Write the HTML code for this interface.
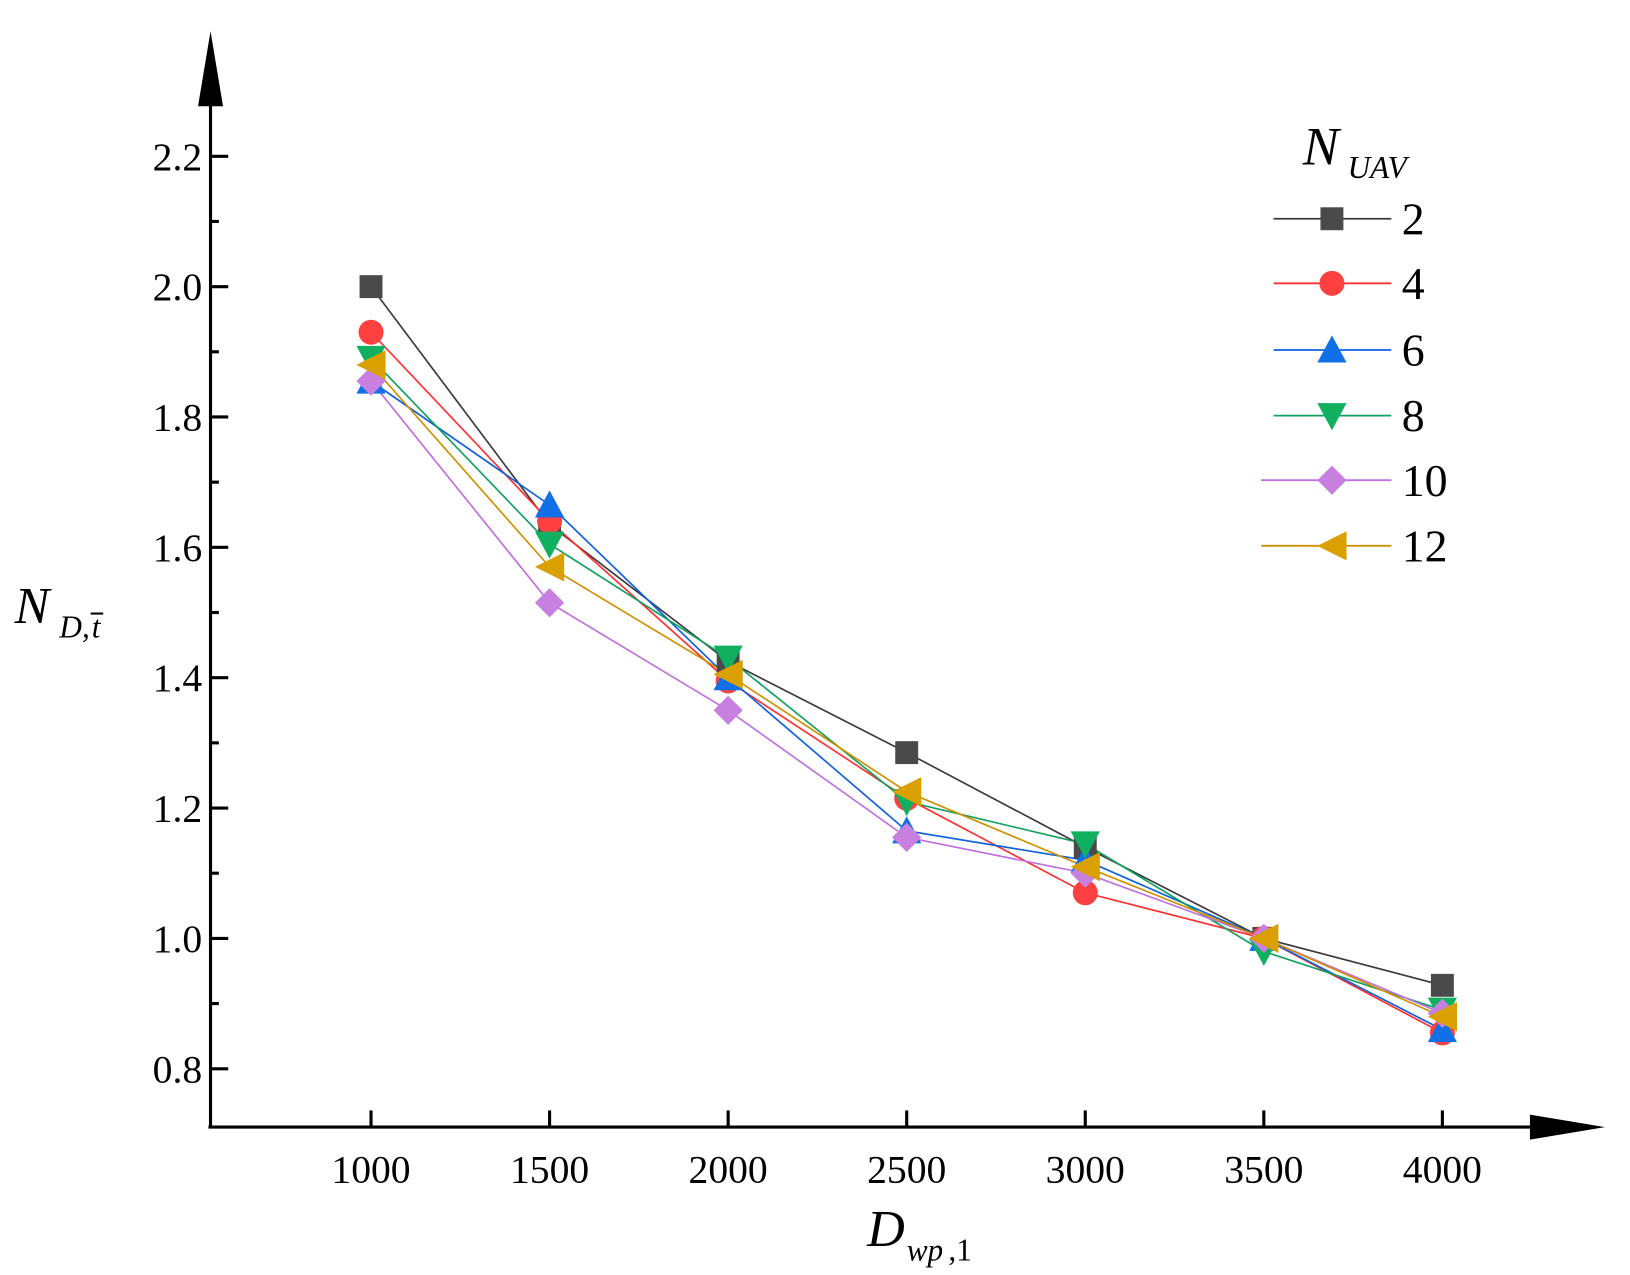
<!DOCTYPE html>
<html><head><meta charset="utf-8"><style>
html,body{margin:0;padding:0;background:#fff;}
svg{display:block;}
text{font-family:"Liberation Serif",serif;fill:#000;}
</style></head><body>
<svg id="s" width="1630" height="1275" viewBox="0 0 1564 1224" preserveAspectRatio="none" xmlns="http://www.w3.org/2000/svg">
<line x1="202" y1="1082" x2="202" y2="80" stroke="#000" stroke-width="3"/>
<polygon points="202,30 190,102 214,102" fill="#000"/>
<line x1="200" y1="1082" x2="1490" y2="1082" stroke="#000" stroke-width="3"/>
<polygon points="1540,1082 1468,1070 1468,1094" fill="#000"/>
<g id="g"></g>
<text x="14" y="598" font-size="50" font-style="italic">N</text>
<text x="57" y="612" font-size="30" font-style="italic">D,</text>
<text x="88" y="612" font-size="30" font-style="italic">t</text>
<line x1="87" y1="589" x2="99" y2="589" stroke="#000" stroke-width="2"/>
<text x="832" y="1196" font-size="50" font-style="italic">D</text>
<text x="870" y="1210" font-size="30" font-style="italic">wp</text><text x="910" y="1210" font-size="30">,1</text>
<text x="1250" y="158" font-size="52" font-style="italic">N</text>
<text x="1293" y="171" font-size="30" font-style="italic">UAV</text>
</svg>
<script>
var g=document.getElementById('g'),ns='http://www.w3.org/2000/svg';
function el(t,a){var e=document.createElementNS(ns,t);for(var k in a)e.setAttribute(k,a[k]);g.appendChild(e);return e;}
function X(i){return 356+i*171.33;}
function Y(v){return 1026-(v-0.8)*625.7;}
for(var k=1;k<=15;k++){var v=0.7+k*0.1;if(v>2.31)break;var y=Y(v);var maj=Math.round(v*10)%2==0;
el('line',{x1:202,x2:maj?219:210,y1:y,y2:y,stroke:'#000','stroke-width':3});
if(maj){var t=el('text',{x:194,y:y+13,'font-size':38,'text-anchor':'end'});t.textContent=v.toFixed(1);}}
for(var i=0;i<7;i++){el('line',{x1:X(i),x2:X(i),y1:1082,y2:1066,stroke:'#000','stroke-width':3});
var t=el('text',{x:X(i),y:1135,'font-size':38,'text-anchor':'middle'});t.textContent=1000+500*i;}
var S=[
['2','#3a3a3a','#4a4a4a','sq',[2.0,1.635,1.425,1.285,1.14,1.0,0.928]],
['4','#ff3030','#ff4040','ci',[1.93,1.64,1.395,1.215,1.07,1.0,0.855]],
['6','#1060e0','#1070e8','up',[1.855,1.665,1.40,1.165,1.12,1.0,0.86]],
['8','#10a060','#10b060','dn',[1.89,1.605,1.43,1.21,1.145,0.98,0.89]],
['10','#c070e0','#c880e0','di',[1.855,1.515,1.35,1.155,1.10,1.0,0.885]],
['12','#d09000','#daa000','le',[1.88,1.57,1.405,1.225,1.11,1.0,0.88]]];
function mk(t,x,y,c){var r=12;
if(t=='sq')el('rect',{x:x-r+1,y:y-r+1,width:2*r-2,height:2*r-2,fill:c});
else if(t=='ci')el('circle',{cx:x,cy:y,r:r,fill:c});
else if(t=='up')el('polygon',{points:[x,y-r-2,x-r-2,y+r,x+r+2,y+r].join(' '),fill:c});
else if(t=='dn')el('polygon',{points:[x,y+r+2,x-r-2,y-r,x+r+2,y-r].join(' '),fill:c});
else if(t=='di')el('polygon',{points:[x,y-r-2,x+r+2,y,x,y+r+2,x-r-2,y].join(' '),fill:c});
else el('polygon',{points:[x-r-2,y,x+r+2,y-r-2,x+r+2,y+r+2].join(' '),fill:c});}
S.forEach(function(s){var p=s[4].map(function(v,i){return X(i)+','+Y(v)}).join(' ');
el('polyline',{points:p,fill:'none',stroke:s[1],'stroke-width':1.6});});
S.forEach(function(s){s[4].forEach(function(v,i){mk(s[3],X(i),Y(v),s[2]);});});
var LY=[210,272,336,399,461,524];
S.forEach(function(s,j){var x1=j>=4?1210:1222;el('line',{x1:x1,x2:1335,y1:LY[j],y2:LY[j],stroke:s[1],'stroke-width':1.8});
mk(s[3],1278,LY[j],s[2]);var t=el('text',{x:1345,y:LY[j]+15,'font-size':44});t.textContent=s[0];});
</script>
</body></html>
